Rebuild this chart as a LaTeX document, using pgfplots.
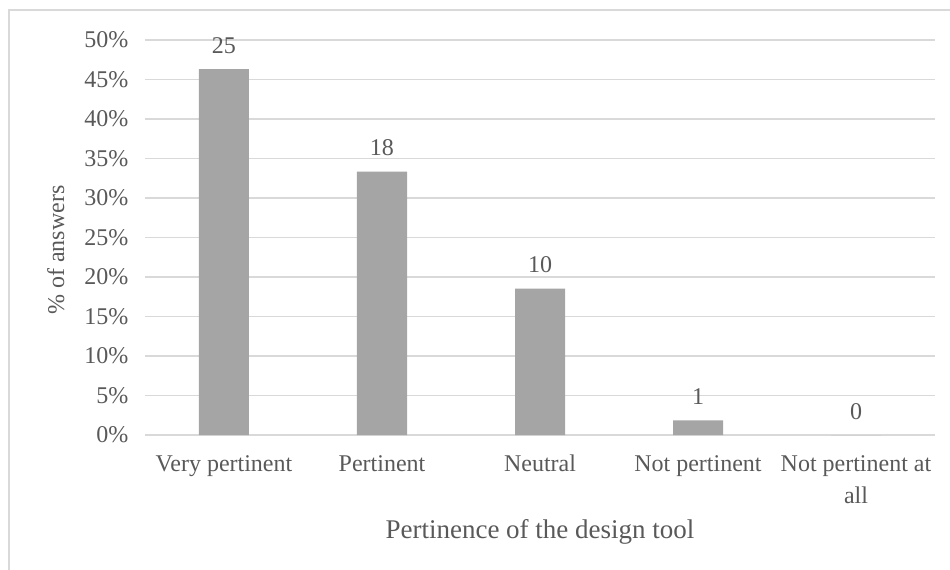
\documentclass[border=0pt]{standalone}
\usepackage{fontspec}
\setmainfont{Liberation Serif}
\usepackage{pgfplots}
\usepackage{pgfplotstable}
\pgfplotsset{compat=1.18}
\definecolor{barc}{HTML}{A5A5A5}
\definecolor{txt}{HTML}{595959}
\definecolor{gridc}{HTML}{D9D9D9}
\pgfplotstableread{
x pct n
0 46.30 25
1 33.33 18
2 18.52 10
3 1.85 1
4 0 0
}\datatab
\begin{document}
\begin{tikzpicture}
\useasboundingbox (-145pt,-135pt) rectangle (805pt,435pt);
\draw[gridc, line width=1.5pt] (-136pt,-140pt) -- (-136pt,425pt) -- (810pt,425pt);
\begin{axis}[
  at={(0,0)}, anchor=south west,
  scale only axis, width=790pt, height=395pt,
  xmin=-0.5, xmax=4.5, ymin=0, ymax=50,
  axis line style={draw=none},
  tick style={draw=none},
  ymajorgrids, grid style={gridc, line width=1.5pt},
  ytick={0,5,...,50},
  yticklabels={0\%,5\%,10\%,15\%,20\%,25\%,30\%,35\%,40\%,45\%,50\%},
  xtick={0,1,2,3,4},
  xticklabels={Very pertinent, Pertinent, Neutral, Not pertinent, {Not pertinent at\\all}},
  typeset ticklabels with strut,
  xticklabel style={align=center, font=\fontsize{24}{32}\selectfont, text=txt, yshift=-11pt},
  yticklabel style={font=\fontsize{24}{28}\selectfont, text=txt, xshift=-13pt, yshift=-2pt},
  xlabel={Pertinence of the design tool},
  xlabel style={at={(axis description cs:0.5,-0.245)}, anchor=center, font=\fontsize{27}{32}\selectfont, text=txt},
  ylabel={\% of answers},
  ylabel style={at={(axis description cs:-0.113,0.468)}, anchor=center, font=\fontsize{24}{28}\selectfont, text=txt},
  /pgf/number format/assume math mode=true,
  nodes near coords={\pgfmathprintnumber{\pgfplotspointmeta}},
  point meta=explicit,
  nodes near coords style={font=\fontsize{24}{28}\selectfont, text=txt, anchor=south, yshift=12pt},
]
\addplot[ybar, bar width=50pt, fill=barc, draw=none] table[x=x, y=pct, meta=n] {\datatab};
\end{axis}
\end{tikzpicture}
\end{document}
